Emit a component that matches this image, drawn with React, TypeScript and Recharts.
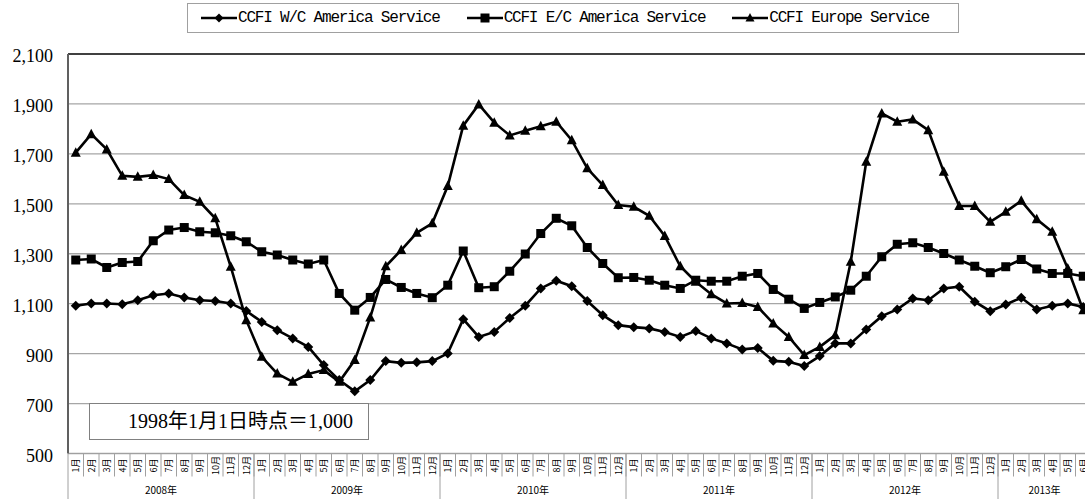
import React from 'react';
import {
  LineChart,
  Line,
  XAxis,
  YAxis,
  CartesianGrid,
  Legend,
  ReferenceLine,
} from 'recharts';

const years = ['2008年', '2009年', '2010年', '2011年', '2012年', '2013年'];
const monthNames = ['1月', '2月', '3月', '4月', '5月', '6月', '7月', '8月', '9月', '10月', '11月', '12月'];
const monthsInYear = [12, 12, 12, 12, 12, 6];

// CCFI W/C America Service
const wcAmerica = [
  1092, 1101, 1101, 1098, 1114, 1134, 1141, 1125, 1114, 1111, 1101, 1071,
  1027, 994, 961, 927, 854, 794, 749, 794, 870, 863, 865, 870,
  901, 1038, 967, 987, 1043, 1092, 1161, 1192, 1170, 1111, 1054, 1014,
  1006, 1001, 987, 967, 991, 961, 941, 917, 923, 871, 867, 850,
  890, 941, 941, 997, 1050, 1077, 1121, 1114, 1161, 1168, 1108, 1070,
  1097, 1124, 1077, 1092, 1101, 1087,
];

// CCFI E/C America Service
const ecAmerica = [
  1275, 1279, 1245, 1265, 1269, 1352, 1395, 1405, 1388, 1384, 1372, 1348,
  1308, 1295, 1275, 1259, 1275, 1141, 1074, 1125, 1197, 1165, 1141, 1124,
  1174, 1311, 1164, 1168, 1230, 1299, 1381, 1442, 1412, 1325, 1261, 1204,
  1205, 1194, 1174, 1161, 1194, 1190, 1190, 1210, 1221, 1157, 1118, 1081,
  1105, 1127, 1154, 1210, 1288, 1338, 1344, 1325, 1301, 1275, 1250, 1224,
  1248, 1277, 1239, 1221, 1221, 1210,
];

// CCFI Europe Service
const europe = [
  1705, 1779, 1718, 1612, 1608, 1615, 1599, 1535, 1508, 1442, 1248, 1034,
  887, 820, 787, 818, 834, 787, 874, 1045, 1250, 1315, 1384, 1422,
  1571, 1813, 1898, 1825, 1774, 1793, 1811, 1829, 1755, 1642, 1575, 1495,
  1488, 1452, 1371, 1250, 1188, 1138, 1101, 1103, 1087, 1021, 967, 894,
  927, 974, 1268, 1668, 1862, 1829, 1838, 1795, 1628, 1491, 1491, 1428,
  1468, 1512, 1438, 1388, 1241, 1074,
];

const yTicks = [500, 700, 900, 1100, 1300, 1500, 1700, 1900, 2100];

const categories = years.flatMap((y, yi) =>
  monthNames.slice(0, monthsInYear[yi]).map((m) => ({ year: y, month: m }))
);

const data = categories.map((c, i) => ({
  ...c,
  wc: wcAmerica[i],
  ec: ecAmerica[i],
  eu: europe[i],
}));

const CHART_W = 1095;
const PLOT_LEFT = 68;
const PLOT_RIGHT_MARGIN = 4;
const BAND = (CHART_W - PLOT_LEFT - PLOT_RIGHT_MARGIN) / data.length;

const Diamond = ({ cx, cy, size = 5 }: any) => (
  <polygon
    points={`${cx},${cy - size} ${cx + size},${cy} ${cx},${cy + size} ${cx - size},${cy}`}
    fill='#000'
  />
);
const Square = ({ cx, cy, size = 4.5 }: any) => (
  <rect x={cx - size} y={cy - size} width={size * 2} height={size * 2} fill='#000' />
);
const Triangle = ({ cx, cy, size = 5 }: any) => (
  <polygon
    points={`${cx},${cy - size - 0.5} ${cx + size},${cy + size - 1} ${cx - size},${cy + size - 1}`}
    fill='#000'
  />
);

const series = [
  { key: 'wc', name: 'CCFI W/C America Service', Marker: Diamond },
  { key: 'ec', name: 'CCFI E/C America Service', Marker: Square },
  { key: 'eu', name: 'CCFI Europe Service', Marker: Triangle },
];

const MonthTick = (props: any) => {
  const { x, y, index } = props;
  const row = data[index];
  if (!row) return null;
  const isJan = row.month === '1月';
  const yearCount = data.filter((d) => d.year === row.year).length;
  return (
    <g>
      <line x1={x + BAND / 2} y1={y} x2={x + BAND / 2} y2={y + 23} stroke='#a0a0a0' />
      {isJan && (
        <line x1={x - BAND / 2} y1={y} x2={x - BAND / 2} y2={y + 46} stroke='#a0a0a0' />
      )}
      <text
        x={x}
        y={y + 12}
        transform={`rotate(-90 ${x} ${y + 12})`}
        textAnchor='middle'
        dominantBaseline='central'
        fontSize={9}
        fontFamily='"Noto Sans CJK JP", sans-serif'
        fill='#000'
      >
        {row.month}
      </text>
      {isJan && (
        <text
          x={x - BAND / 2 + (yearCount * BAND) / 2}
          y={y + 40}
          textAnchor='middle'
          fontSize={10}
          fontFamily='"Noto Sans CJK JP", sans-serif'
          fill='#000'
        >
          {row.year}
        </text>
      )}
    </g>
  );
};

const LegendBox = () => (
  <div
    style={{
      width: 757,
      height: 28,
      border: '1px solid #a0a0a0',
      background: '#fff',
      display: 'flex',
      alignItems: 'center',
      paddingLeft: 13,
      boxSizing: 'content-box',
    }}
  >
    {series.map((s, i) => (
      <div
        key={s.key}
        style={{ display: 'flex', alignItems: 'center', marginRight: i < 2 ? 27 : 0 }}
      >
        <svg width={36} height={14}>
          <line x1={0} y1={7} x2={36} y2={7} stroke='#000' strokeWidth={2.6} />
          <s.Marker cx={18} cy={7} size={4.5} />
        </svg>
        <span
          style={{
            fontFamily: '"Liberation Mono", monospace',
            fontSize: 16,
            letterSpacing: -1.2,
            marginLeft: 1,
            color: '#000',
            whiteSpace: 'nowrap',
          }}
        >
          {s.name}
        </span>
      </div>
    ))}
  </div>
);

export default function App() {
  return (
    <div
      style={{
        position: 'fixed',
        left: 0,
        top: 0,
        width: 1085,
        height: 499,
        overflow: 'hidden',
        background: '#fff',
      }}
    >
      <LineChart
        width={CHART_W}
        height={499}
        data={data}
        margin={{ top: 54, right: PLOT_RIGHT_MARGIN, left: 0, bottom: 0 }}
      >
        <CartesianGrid vertical={false} stroke='#a6a6a6' strokeWidth={1.3} />
        <XAxis
          dataKey='month'
          interval={0}
          height={45.5}
          tickSize={0}
          tickMargin={0}
          tickLine={false}
          padding={{ left: BAND / 2, right: BAND / 2 }}
          axisLine={{ stroke: '#a0a0a0' }}
          tick={<MonthTick />}
        />
        <YAxis
          width={PLOT_LEFT}
          domain={[500, 2100]}
          ticks={yTicks}
          tickSize={0}
          tickMargin={15}
          tickLine={false}
          axisLine={{ stroke: '#606060', strokeWidth: 2 }}
          tickFormatter={(v: number) => v.toLocaleString('en-US')}
          tick={{ fontSize: 18, fill: '#000', fontFamily: '"Liberation Serif", serif', dy: 2 }}
        />
        <ReferenceLine y={2100} stroke='#404040' strokeWidth={2} />
        <Legend
          layout='horizontal'
          verticalAlign='middle'
          align='center'
          wrapperStyle={{ top: 3, left: 187, width: 771, height: 30 }}
          content={() => <LegendBox />}
        />
        {series.map((s) => (
          <Line
            key={s.key}
            type='linear'
            dataKey={s.key}
            name={s.name}
            stroke='#000'
            strokeWidth={2.6}
            isAnimationActive={false}
            dot={(p: any) => <s.Marker key={`${s.key}-${p.index}`} cx={p.cx} cy={p.cy} />}
            activeDot={false}
          />
        ))}
      </LineChart>
      <div
        style={{
          position: 'absolute',
          left: 89,
          top: 403,
          width: 278,
          height: 35,
          border: '1px solid #808080',
          background: '#fff',
          boxSizing: 'content-box',
          fontFamily: '"Liberation Serif", "Noto Sans CJK JP", serif',
          fontSize: 20,
          lineHeight: '35px',
        }}
      >
        <span style={{ position: 'absolute', left: 38, top: 0, whiteSpace: 'nowrap' }}>
          1998年1月1日時点＝1,000
        </span>
      </div>
    </div>
  );
}
